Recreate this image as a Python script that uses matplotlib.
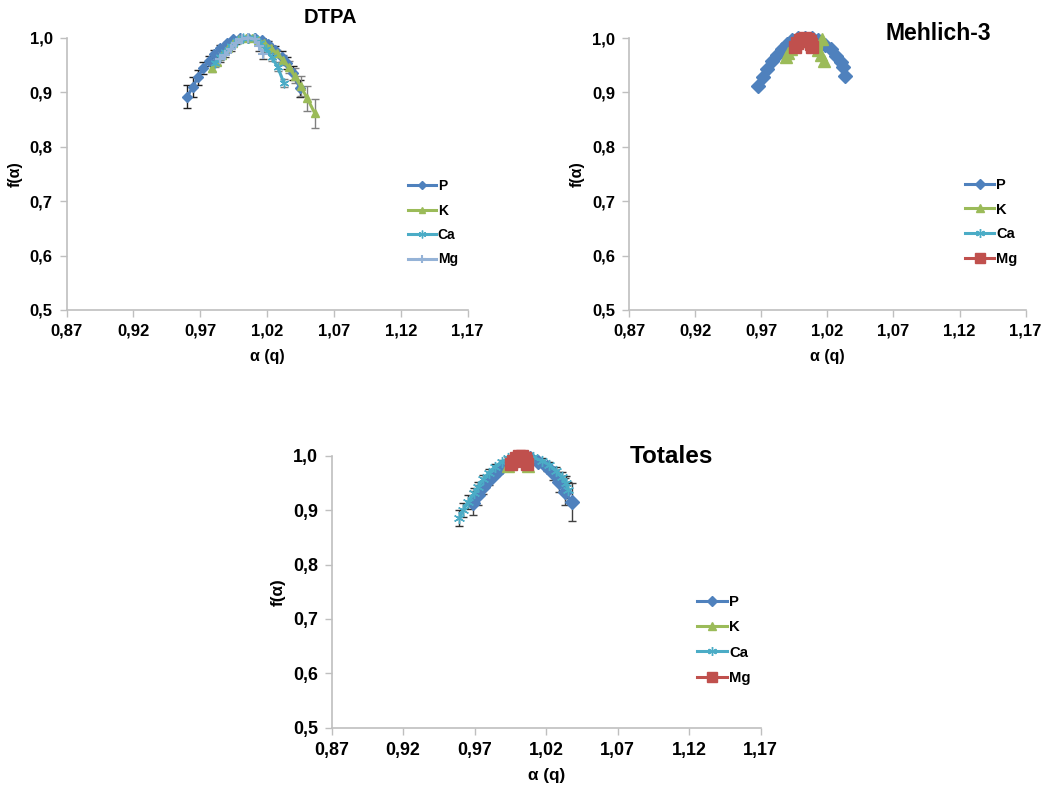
import matplotlib
matplotlib.use("Agg")
import matplotlib.pyplot as plt
from matplotlib.ticker import FuncFormatter
import numpy as np

plt.rcParams['font.family'] = ['Liberation Sans', 'DejaVu Sans']
plt.rcParams['font.weight'] = 'bold'

# ---- DTPA ----
dtpa_p_a = [0.9603, 0.9642, 0.9680, 0.9722, 0.9764, 0.9804, 0.9847, 0.9897, 0.9946, 0.9996,
            1.0058, 1.0108, 1.0158, 1.0208, 1.0258, 1.0308, 1.0350, 1.0395, 1.0445]
dtpa_p_f = [0.892, 0.909, 0.927, 0.944, 0.957, 0.970, 0.981, 0.990, 0.997, 1.000,
            1.000, 0.999, 0.995, 0.988, 0.977, 0.965, 0.953, 0.935, 0.907]
dtpa_p_e = [0.021, 0.018, 0.014, 0.011, 0.009, 0.007, 0.005, 0.003, 0.002, 0.0,
            0.0, 0.002, 0.004, 0.006, 0.008, 0.010, 0.011, 0.013, 0.016]

dtpa_k_a = [0.9785, 0.9822, 0.9859, 0.9904, 0.9946, 0.9991, 1.0039, 1.0084, 1.0133,
            1.0178, 1.0226, 1.0271, 1.0316, 1.0361, 1.0405, 1.0450, 1.0500, 1.0557]
dtpa_k_f = [0.944, 0.956, 0.968, 0.981, 0.991, 0.998, 1.000, 1.000, 0.996,
            0.990, 0.982, 0.971, 0.959, 0.946, 0.930, 0.911, 0.889, 0.861]
dtpa_k_e = [0.007, 0.006, 0.005, 0.004, 0.003, 0.002, 0.0, 0.0, 0.002,
            0.003, 0.005, 0.007, 0.009, 0.011, 0.014, 0.018, 0.023, 0.027]

dtpa_ca_a = [0.9809, 0.9847, 0.9884, 0.9927, 0.9971, 1.0016, 1.0058, 1.0103, 1.0146,
             1.0188, 1.0233, 1.0278, 1.0325]
dtpa_ca_f = [0.953, 0.964, 0.974, 0.985, 0.994, 1.000, 1.000, 0.999, 0.991,
             0.979, 0.964, 0.947, 0.917]
dtpa_ca_e = [0.006, 0.005, 0.004, 0.003, 0.002, 0.0, 0.0, 0.002, 0.004,
             0.006, 0.007, 0.008, 0.008]

dtpa_mg_a = [0.9847, 0.9884, 0.9927, 0.9966, 1.0009, 1.0058, 1.0108, 1.0140, 1.0170]
dtpa_mg_f = [0.960, 0.968, 0.979, 0.990, 0.997, 1.000, 0.997, 0.984, 0.970]
dtpa_mg_e = [0.005, 0.004, 0.003, 0.002, 0.0, 0.0, 0.003, 0.008, 0.010]

# ---- Mehlich-3 ----
meh_p_a = [0.9678, 0.9711, 0.9746, 0.9781, 0.9817, 0.9855, 0.9893, 0.9935, 0.9980,
           1.0031, 1.0082, 1.0132, 1.0182, 1.0225, 1.0265, 1.0301, 1.0318, 1.0333]
meh_p_f = [0.911, 0.928, 0.943, 0.957, 0.969, 0.980, 0.989, 0.996, 1.000,
           1.000, 1.000, 0.996, 0.988, 0.979, 0.967, 0.955, 0.946, 0.931]

meh_k_a = [0.9887, 0.9905, 0.9928, 0.9955, 0.9990, 1.0030, 1.0070, 1.0105, 1.0132,
           1.0162, 1.0152, 1.0177]
meh_k_f = [0.965, 0.972, 0.980, 0.988, 0.995, 0.999, 0.996, 0.988, 0.978,
           0.998, 0.969, 0.957]

meh_ca_a = []
meh_ca_f = []

meh_mg_a = [0.9955, 0.9970, 0.9990, 1.0010, 1.0030, 1.0050, 1.0070, 1.0080, 1.0085]
meh_mg_f = [0.983, 0.990, 0.996, 0.999, 1.000, 0.999, 0.995, 0.989, 0.983]

# ---- Totales ----
tot_p_a = [0.9686, 0.9725, 0.9760, 0.9802, 0.9847, 0.9893, 0.9947, 0.9996, 1.0038,
           1.0087, 1.0145, 1.0203, 1.0250, 1.0292, 1.0331, 1.0378]
tot_p_f = [0.914, 0.928, 0.942, 0.955, 0.969, 0.980, 0.989, 0.995, 0.998,
           0.996, 0.989, 0.980, 0.968, 0.952, 0.934, 0.915]
tot_p_e = [0.022, 0.018, 0.012, 0.009, 0.006, 0.004, 0.002, 0.0, 0.0,
           0.002, 0.005, 0.008, 0.012, 0.018, 0.025, 0.035]

tot_k_a = [0.9935, 0.9960, 0.9990, 1.0020, 1.0050, 1.0075]
tot_k_f = [0.982, 0.992, 0.998, 0.999, 0.992, 0.982]

tot_ca_a = [0.9592, 0.9620, 0.9655, 0.9697, 0.9725, 0.9760, 0.9800, 0.9842, 0.9889, 0.9935,
            0.9994, 1.0052, 1.0110, 1.0169, 1.0222, 1.0269, 1.0308, 1.0339, 1.0355]
tot_ca_f = [0.885, 0.900, 0.915, 0.931, 0.943, 0.957, 0.969, 0.980, 0.989, 0.995,
            0.999, 0.999, 0.997, 0.991, 0.983, 0.972, 0.961, 0.949, 0.937]
tot_ca_e = [0.015, 0.013, 0.012, 0.010, 0.009, 0.007, 0.006, 0.004, 0.003, 0.002,
            0.0, 0.0, 0.002, 0.004, 0.006, 0.008, 0.010, 0.013, 0.015]

tot_mg_a = [0.9955, 0.9970, 0.9990, 1.0010, 1.0030, 1.0050, 1.0060, 1.0065]
tot_mg_f = [0.985, 0.991, 0.996, 0.999, 0.999, 0.996, 0.991, 0.985]

x_ticks = [0.87, 0.92, 0.97, 1.02, 1.07, 1.12, 1.17]
y_ticks = [0.5, 0.6, 0.7, 0.8, 0.9, 1.0]

C_P = '#4F81BD'
C_K = '#9BBB59'
C_CA = '#4BACC6'
C_MG_LIGHT = '#95B3D7'
C_MG = '#C0504D'
GRID = '#BFBFBF'

ASTER = (6, 2, 0)


def style_axes(ax, s=1.0):
    ax.set_xlim(0.87, 1.17)
    ax.set_ylim(0.5, 1.0)
    ax.set_xticks(x_ticks)
    ax.set_yticks(y_ticks)
    ax.xaxis.set_major_formatter(FuncFormatter(lambda v, p: f"{v:.2f}".replace('.', ',')))
    ax.yaxis.set_major_formatter(FuncFormatter(lambda v, p: f"{v:.1f}".replace('.', ',')))
    for sp in ['top', 'right']:
        ax.spines[sp].set_visible(False)
    for sp in ['left', 'bottom']:
        ax.spines[sp].set_color(GRID)
        ax.spines[sp].set_linewidth(1.2)
    ax.tick_params(direction='out', length=5, width=1, color=GRID, labelsize=12 * s, pad=5)
    for lbl in ax.get_xticklabels() + ax.get_yticklabels():
        lbl.set_fontweight('bold')
    ax.set_xlabel('α (q)', fontsize=11.5 * s, fontweight='bold', labelpad=7)
    ax.set_ylabel('f(α)', fontsize=11.5 * s, fontweight='bold', labelpad=5)


def series(ax, a, f, color, marker, ms, label, err=None, ecolor='#404040', mew=1.0):
    if err is not None:
        ax.errorbar(a, f, yerr=err, fmt='none', ecolor=ecolor, elinewidth=1,
                    capsize=3, capthick=1, zorder=2)
    ax.plot(a, f, color=color, lw=2.2, marker=marker, ms=ms, mfc=color, mec=color,
            mew=mew, label=label, zorder=3, clip_on=False)


def add_legend(ax, x, y, s=1.0):
    leg = ax.legend(loc='center left', bbox_to_anchor=(x, y), frameon=False,
                    prop={'weight': 'bold', 'size': 10 * s}, handlelength=2.0,
                    handletextpad=0.15, labelspacing=0.75, borderpad=0,
                    borderaxespad=0, markerscale=0.8)
    return leg


fig = plt.figure(figsize=(10.48, 7.87), dpi=100)

# DTPA
ax1 = fig.add_axes([0.0636, 0.6061, 0.3826, 0.346])
style_axes(ax1)
series(ax1, dtpa_p_a, dtpa_p_f, C_P, 'D', 5, 'P', dtpa_p_e, '#202020')
series(ax1, dtpa_k_a, dtpa_k_f, C_K, '^', 6, 'K', dtpa_k_e, '#808080')
series(ax1, dtpa_ca_a, dtpa_ca_f, C_CA, ASTER, 7, 'Ca', dtpa_ca_e, '#808080')
series(ax1, dtpa_mg_a, dtpa_mg_f, C_MG_LIGHT, '+', 7, 'Mg', dtpa_mg_e, '#404040', mew=1.5)
ax1.text(0.657, 1.074, 'DTPA', transform=ax1.transAxes, ha='center', va='center',
         fontsize=14.5, fontweight='bold')
add_legend(ax1, 0.851, 0.32)

# Mehlich-3
ax2 = fig.add_axes([0.6002, 0.6061, 0.3785, 0.3456])
style_axes(ax2)
series(ax2, meh_p_a, meh_p_f, C_P, 'D', 7, 'P')
series(ax2, meh_k_a, meh_k_f, C_K, '^', 8, 'K')
series(ax2, meh_ca_a, meh_ca_f, C_CA, ASTER, 8, 'Ca')
series(ax2, meh_mg_a, meh_mg_f, C_MG, 's', 9, 'Mg')
ax2.text(0.779, 1.018, 'Mehlich-3', transform=ax2.transAxes, ha='center', va='center',
         fontsize=16.5, fontweight='bold')
add_legend(ax2, 0.847, 0.3235, 1.05)

# Totales
ax3 = fig.add_axes([0.3165, 0.0753, 0.4093, 0.3456])
style_axes(ax3, 1.07)
series(ax3, tot_p_a, tot_p_f, C_P, 'D', 7, 'P', tot_p_e, '#404040')
series(ax3, tot_k_a, tot_k_f, C_K, '^', 8, 'K')
series(ax3, tot_ca_a, tot_ca_f, C_CA, ASTER, 8, 'Ca', tot_ca_e, '#303030')
series(ax3, tot_mg_a, tot_mg_f, C_MG, 's', 9, 'Mg')
ax3.text(0.793, 0.999, 'Totales', transform=ax3.transAxes, ha='center', va='center',
         fontsize=17.5, fontweight='bold')
add_legend(ax3, 0.8515, 0.3224, 1.07)

fig.savefig('out.png', dpi=100)
